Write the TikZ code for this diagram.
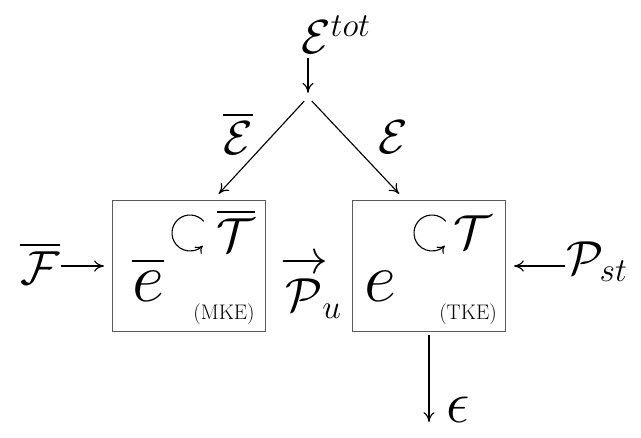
\RequirePackage{fix-cm}
\documentclass[tikz,border=0pt]{standalone}
\usepackage{amsmath,amssymb}
\usetikzlibrary{arrows.meta,calc,positioning}
\definecolor{boxc}{RGB}{90,90,90}

\begin{document}
\begin{tikzpicture}[x=0.025cm,y=0.025cm,>={To[length=7pt,width=8pt]},
  sym/.style={font=\fontsize{34}{40}\selectfont,inner sep=0pt},
  big/.style={font=\fontsize{50}{60}\selectfont,inner sep=0pt},
  tag/.style={font=\fontsize{15}{17}\selectfont,inner sep=0pt},
  budget/.style={draw=boxc,line width=0.7pt,minimum width=3.8cm,minimum height=3.275cm},
  flow/.style={->,line width=0.8pt},
  turn/.style={->,line width=0.8pt,>={To[length=5pt,width=7pt]}}]
  \useasboundingbox (0,0) rectangle (641,437);
  \node[budget] (mke) at (189,171) {};
  \node[budget] (tke) at (429,171) {};
  % total energy input splits into the two budgets
  \node[sym] (etot) at (336,402) {$\mathcal{E}^{tot}$};
  \coordinate (split) at (308,340);
  \draw[flow,shorten <=3pt,shorten >=3pt] (etot.south -| split) -- (split);
  \draw[flow,shorten <=4pt,shorten >=6pt] (split) -- ($(mke.north)+(24,0)$);
  \draw[flow,shorten <=4pt,shorten >=6pt] (split) -- ($(tke.north)+(-24,0)$);
  \node[sym] (ebar) at (238,304) {$\overline{\mathcal{E}}$};
  \node[sym] (ecal) at (393,300) {$\mathcal{E}$};
  % forcing and shear production
  \node[sym] (fbar) at (40,174) {$\overline{\mathcal{F}}$};
  \draw[flow,shorten <=1pt,shorten >=6pt] (fbar.east |- mke) -- (mke);
  \node[sym] (pst) at (597,175) {$\mathcal{P}_{st}$};
  \draw[flow,shorten <=1pt,shorten >=6pt] (pst.west |- tke) -- (tke);
  \node[sym] (pu) at (311,150) {$\overrightarrow{\mathcal{P}\rule{0pt}{0.8em}}_{\!u}$};
  % box contents
  \node[big] (emean) at (148,158) {$\overline{e}$};
  \node[big] (eturb) at (380,151) {$e$};
  \node[sym] (tmean) at (236,207) {$\overline{\mathcal{T}}$};
  \node[sym] (tturb) at (473,205) {$\mathcal{T}$};
  \coordinate (mkerot) at (190,204);
  \coordinate (tkerot) at (432,204);
  \draw[turn] ([shift={(40:18)}]mkerot) arc[start angle=40,end angle=315,radius=18];
  \draw[turn] ([shift={(40:18)}]tkerot) arc[start angle=40,end angle=315,radius=18];
  \node[tag] (mketag) at (224,123) {(MKE)};
  \node[tag] (tketag) at (468,123) {(TKE)};
  % dissipation
  \coordinate (sink) at (429,15);
  \node[font=\fontsize{42}{48}\selectfont,inner sep=0pt] (eps) at (458,27) {$\epsilon$};
  \draw[flow,shorten <=2pt] (tke) -- (sink);
\end{tikzpicture}
\end{document}
